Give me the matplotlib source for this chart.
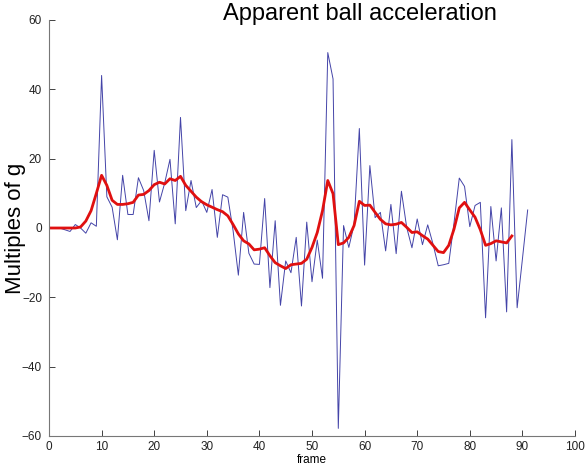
import numpy as np
import matplotlib
matplotlib.use("Agg")
import matplotlib.pyplot as plt

plt.rcParams['font.family'] = ['Liberation Sans', 'DejaVu Sans']

# raw apparent acceleration per frame (multiples of g)
raw_accel = [0, 0, 0, -0.5, -1, 1, 0, -1.5, 1.5, 0.5,
             44, 9, 6, -3.4, 15.2, 3.9, 3.9, 14.5, 10.8, 2.1,
             22.4, 7.5, 13, 19.8, 1.2, 31.9, 5, 13.7, 5.9, 7.9,
             4.5, 11.1, -2.7, 9.6, 8.9, -0.8, -13.6, 4.5, -7.3, -10.4,
             -10.5, 8.5, -17.2, 2.1, -22.3, -9.5, -12.9, -2.7, -22.5, 1.7,
             -15.5, -3.5, -14.5, 50.6, 43, -57.8, 0.7, -5.6, 1, 28.7,
             -10.7, 18, 3, 4.5, -6.6, 6.8, -7.4, 10.6, 0.2, -5.7,
             2.6, -4.8, 0.9, -4.6, -10.9, -10.6, -10.2, 1.5, 14.4, 12,
             0.4, 6.5, 7.4, -25.9, 6.2, -9.5, 5.8, -24.2, 25.5, -23,
             -9, 5.2]

# smoothed curve
smooth_accel = [0, 0, 0, 0, 0, 0, 0.3, 2, 5, 10,
                15.2, 12.3, 8, 6.8, 6.8, 7, 7.4, 9.5, 9.7, 10.8,
                12.5, 13.2, 12.7, 14.2, 13.7, 14.9, 12.3, 10.6, 8.9, 7.6,
                6.7, 6.0, 5.3, 4.7, 3.5, 1, -1.7, -3.7, -4.6, -6.3,
                -6.1, -5.7, -8, -10, -10.9, -11.7, -10.6, -10.4, -10.2, -9,
                -5.6, -1.3, 5, 13.7, 9.9, -4.8, -4.3, -2.7, 0.7, 7.7,
                6.5, 6.6, 4.5, 2.5, 1.2, 0.9, 1.1, 1.6, 0.2, -1.3,
                -1.1, -2.2, -3.2, -5, -6.8, -7.1, -5, -0.3, 5.8, 7.4,
                5.2, 3.1, -0.5, -5, -4.5, -3.7, -4, -4.3, -2.3]

raw_frames = np.arange(len(raw_accel))
smooth_frames = np.arange(len(smooth_accel))

fig = plt.figure(figsize=(5.87, 4.71), dpi=100)
ax = fig.add_axes([49/587, 35/471, 526/587, 416/471])

ax.plot(raw_frames, raw_accel, color='#4444a8', lw=0.7)
ax.plot(smooth_frames, smooth_accel, color='#e01010', lw=2.0)

ax.set_xlim(0, 100)
ax.set_ylim(-60, 60)
ax.set_xticks(np.arange(0, 101, 10))
ax.set_yticks(np.arange(-60, 61, 20))
ax.tick_params(direction='in', length=4, labelsize=8.5, colors='#222222', width=0.6)
ax.tick_params(axis='y', pad=5)
for s in ['top', 'right']:
    ax.spines[s].set_visible(False)
for s in ['left', 'bottom']:
    ax.spines[s].set_color('#777777')
    ax.spines[s].set_linewidth(0.8)

ax.set_xlabel('frame', fontsize=8.5, labelpad=1)
ax.set_ylabel('Multiples of g', fontsize=16)
ax.yaxis.set_label_coords(-23/526, 0.5)
fig.text(360/587, 1 - 14/471, 'Apparent ball acceleration', fontsize=17,
         ha='center', va='center')

fig.savefig('out.png', dpi=100)
